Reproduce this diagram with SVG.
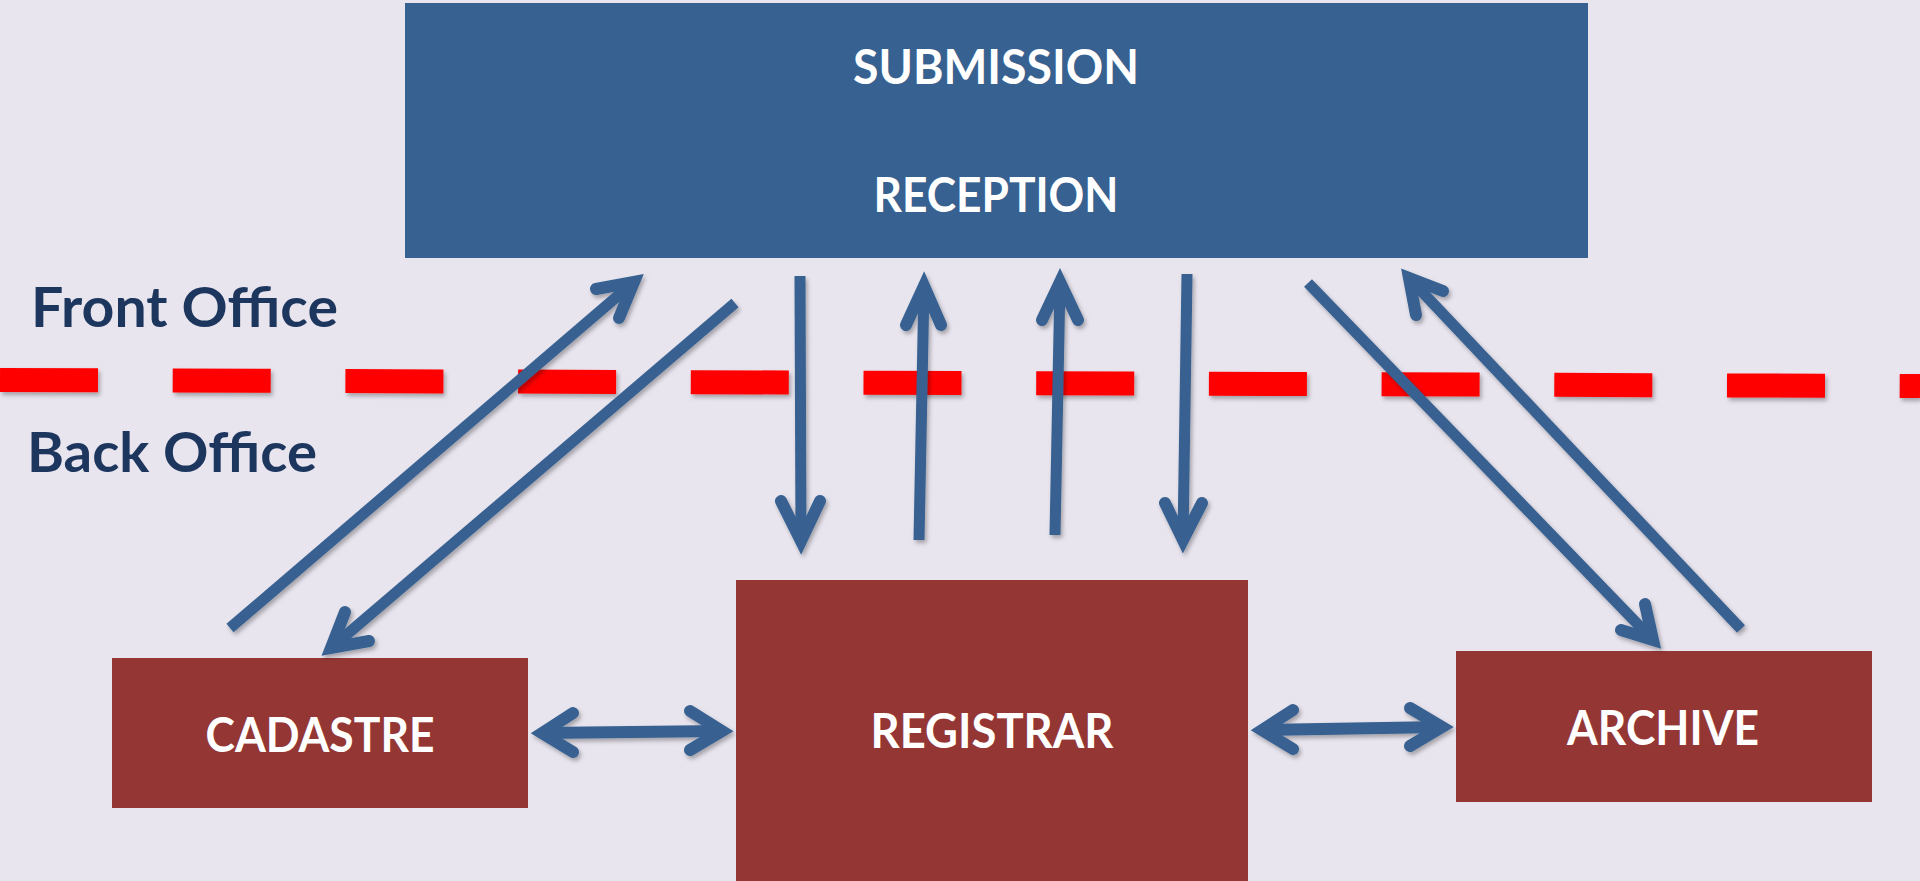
<svg xmlns="http://www.w3.org/2000/svg" width="1920" height="881" viewBox="0 0 1920 881">
<defs>
<filter id="sh" filterUnits="userSpaceOnUse" x="-20" y="-20" width="1960" height="921">
<feDropShadow dx="2" dy="3" stdDeviation="2" flood-color="#000" flood-opacity="0.3"/>
</filter>
<style>
.bg{fill:#e9e5ef}
.blue{fill:#376190}
.red{fill:#943634}
.t{font-family:Lato,"Open Sans","Liberation Sans",sans-serif;font-weight:bold;fill:#ffffff;font-size:48px;text-anchor:middle}
.lbl{font-family:Lato,"Open Sans","Liberation Sans",sans-serif;font-weight:bold;fill:#1c365e;font-size:56px}
.dash{stroke:#ff0000;stroke-width:24;fill:none;stroke-dasharray:98 74.7}
.shaft{stroke:#376190;stroke-width:11;fill:none;stroke-linecap:butt}
.head{stroke:#376190;stroke-width:12;fill:none;stroke-linecap:round;stroke-linejoin:miter;stroke-miterlimit:6}
.dbl{stroke-width:12}
</style>
</defs>
<rect class="bg" x="0" y="0" width="1920" height="881"/>

<g id="submission-reception">
<rect class="blue" x="405" y="3" width="1183" height="255"/>
<text class="t" x="996" y="84" textLength="286" lengthAdjust="spacingAndGlyphs">SUBMISSION</text>
<text class="t" x="996" y="212" textLength="245" lengthAdjust="spacingAndGlyphs">RECEPTION</text>
</g>

<g id="cadastre">
<rect class="red" x="112" y="658" width="416" height="150"/>
<text class="t" x="320" y="752" textLength="229" lengthAdjust="spacingAndGlyphs">CADASTRE</text>
</g>

<g id="registrar">
<rect class="red" x="736" y="580" width="512" height="301"/>
<text class="t" x="992" y="748" textLength="243" lengthAdjust="spacingAndGlyphs">REGISTRAR</text>
</g>

<g id="archive">
<rect class="red" x="1456" y="651" width="416" height="151"/>
<text class="t" x="1663" y="745" textLength="192" lengthAdjust="spacingAndGlyphs">ARCHIVE</text>
</g>

<g id="labels">
<text class="lbl" x="31" y="327" textLength="307" lengthAdjust="spacingAndGlyphs">Front Office</text>
<text class="lbl" x="27" y="472" textLength="290" lengthAdjust="spacingAndGlyphs">Back Office</text>
</g>

<g id="divider" filter="url(#sh)">
<line class="dash" x1="0" y1="380" x2="1920" y2="386"/>
</g>

<g id="connectors" filter="url(#sh)">
<!-- Cadastre to Submission -->
<path class="shaft" d="M230 628 L634 282"/>
<path class="head" d="M596 289 L634 282 L619 318"/>
<!-- Submission to Cadastre -->
<path class="shaft" d="M735 303 L331 648"/>
<path class="head" d="M345 612 L331 648 L369 641"/>
<!-- Reception down to Registrar -->
<path class="shaft" d="M800 276 L801 541"/>
<path class="head" d="M781 501 L801 541 L820 501"/>
<!-- Registrar up to Reception -->
<path class="shaft" d="M919 540 L924 286"/>
<path class="head" d="M906 325 L924 286 L941 325"/>
<!-- Registrar up to Reception (2) -->
<path class="shaft" d="M1055 535 L1060 282"/>
<path class="head" d="M1042 320 L1060 282 L1078 320"/>
<!-- Reception down to Registrar (2) -->
<path class="shaft" d="M1187 274 L1183 540"/>
<path class="head" d="M1165 503 L1183 540 L1202 503"/>
<!-- Submission to Archive -->
<path class="shaft" d="M1308 283 L1653 640"/>
<path class="head" d="M1645 604 L1653 640 L1621 630"/>
<!-- Archive to Submission -->
<path class="shaft" d="M1741 629 L1409 278"/>
<path class="head" d="M1443 291 L1409 278 L1416 315"/>
<!-- Cadastre <-> Registrar -->
<path class="shaft dbl" d="M542 733 L722 731"/>
<path class="head dbl" d="M573 713 L542 733 L573 752"/>
<path class="head dbl" d="M690 711 L722 731 L690 750"/>
<!-- Registrar <-> Archive -->
<path class="shaft dbl" d="M1262 730 L1442 727"/>
<path class="head dbl" d="M1293 710 L1262 730 L1293 749"/>
<path class="head dbl" d="M1410 708 L1442 727 L1410 746"/>
</g>
</svg>
